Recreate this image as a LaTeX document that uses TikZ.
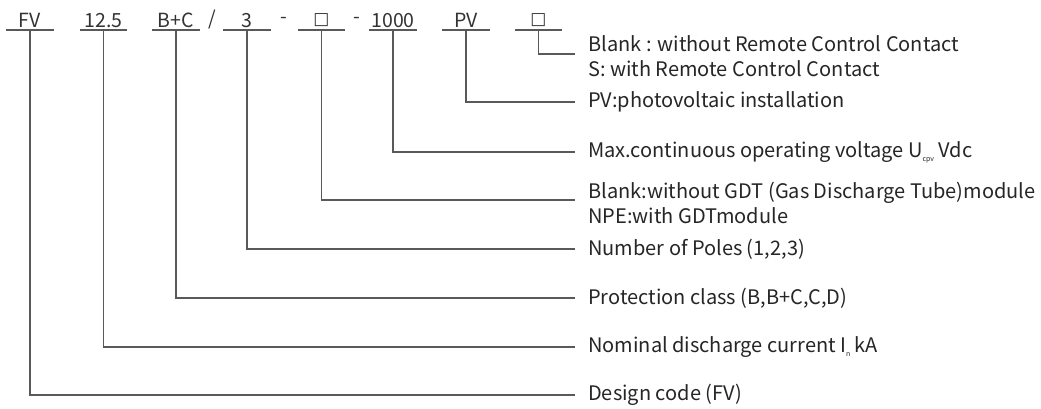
\documentclass[tikz,border=0pt]{standalone}
\usepackage{fontspec}
\setmainfont{Noto Sans CJK SC}
\newfontfamily\symfont{DejaVu Sans}
\begin{document}
\begin{tikzpicture}[x=1pt,y=-1pt,
  conn/.style={draw=black!65,line width=1.2pt},
  hdr/.style={inner sep=0pt,minimum width=47pt,minimum height=19pt,anchor=south,font=\fontsize{19.5}{20}\selectfont,text=black!80},
  sep/.style={inner sep=0pt,font=\fontsize{19.5}{20}\selectfont,text=black!80},
  lbl/.style={inner sep=0pt,anchor=west,align=left,font=\fontsize{20}{25}\selectfont,text=black!85}]
\fill[white] (0,0) rectangle (1041,408);
\useasboundingbox (0,0) rectangle (1041,408);
% header
\node[hdr] (h1) at (30,30) {FV};
\node[hdr] (h2) at (103.5,30) {12.5};
\node[hdr] (h3) at (176,30) {B+C};
\node[hdr] (h4) at (247,30) {3};
\node[hdr] (h5) at (321.5,30) {{\symfont\fontsize{17}{20}\selectfont □}};
\node[hdr] (h6) at (393,30) {1000};
\node[hdr] (h7) at (466,30) {PV};
\node[hdr] (h8) at (538.5,30) {{\symfont\fontsize{17}{20}\selectfont □}};
\node[sep] (s1) at (212,19) {/};
\node[sep] (s2) at (284,20) {-};
\node[sep] (s3) at (357,20) {-};
\foreach \h in {h1,h2,h3,h4,h5,h6,h7,h8}
  \draw[conn] (\h.south west) -- (\h.south east);
% labels
\node[lbl] (l8) at (588,56) {Blank : without Remote Control Contact\\S: with Remote Control Contact};
\node[lbl] (l7) at (588,102) {PV:photovoltaic installation};
\node[lbl] (l6) at (588,152) {Max.continuous operating voltage U\raisebox{-0.35ex}{\fontsize{7}{7}\selectfont cpv} Vdc};
\node[lbl] (l5) at (588,203) {Blank:without GDT (Gas Discharge Tube)module\\NPE:with GDTmodule};
\node[lbl] (l4) at (588,249) {Number of Poles (1,2,3)};
\node[lbl] (l3) at (588,298) {Protection class (B,B+C,C,D)};
\node[lbl] (l2) at (588,347) {Nominal discharge current I\raisebox{-0.35ex}{\fontsize{7}{7}\selectfont n} kA};
\node[lbl] (l1) at (588,395) {Design code (FV)};
% line ends
\coordinate (e8) at (575,54);
\coordinate (e7) at (575,102);
\coordinate (e6) at (575,152);
\coordinate (e5) at (575,200);
\coordinate (e4) at (575,249);
\coordinate (e3) at (575,298);
\coordinate (e2) at (575,347);
\coordinate (e1) at (575,395);
\foreach \i in {1,...,8}
  \draw[conn] (h\i.south) |- (e\i);
\end{tikzpicture}
\end{document}
